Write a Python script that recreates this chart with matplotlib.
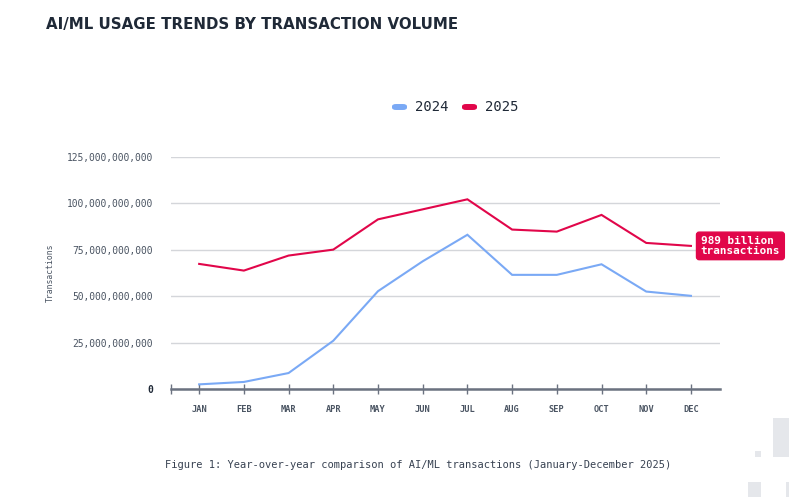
import matplotlib
matplotlib.use("Agg")
from matplotlib import pyplot as plt
from matplotlib.patches import Rectangle, FancyBboxPatch
from matplotlib.ticker import FuncFormatter, FixedLocator

months = ["JAN", "FEB", "MAR", "APR", "MAY", "JUN", "JUL", "AUG", "SEP", "OCT", "NOV", "DEC"]
# transactions, in billions
tx_2024 = [2.5, 3.8, 8.6, 26.0, 52.7, 68.8, 83.1, 61.5, 61.5, 67.2, 52.5, 50.2]
tx_2025 = [67.4, 63.8, 71.9, 75.1, 91.4, 96.8, 102.2, 85.9, 84.8, 93.8, 78.7, 77.1]
y_ticks = [0, 25e9, 50e9, 75e9, 100e9, 125e9]
callout = "989 billion\ntransactions"

BLUE = "#7aa9f5"
RED = "#e1064a"
MONO = "DejaVu Sans Mono"

W, H = 797, 497
fig = plt.figure(figsize=(W / 100, H / 100), dpi=100)

def fx(px):
    return px / W

def fy(py):
    return 1 - py / H

ax = fig.add_axes([fx(171), fy(389), fx(720) - fx(171), fy(157) - fy(389)])

x = list(range(len(months)))
ax.plot(x, [v * 1e9 for v in tx_2024], color=BLUE, lw=1.5, label="2024", solid_joinstyle="miter")
ax.plot(x, [v * 1e9 for v in tx_2025], color=RED, lw=1.5, label="2025", solid_joinstyle="miter")

ax.set_xlim(-0.63, 11.65)
ax.set_ylim(0, 125e9)

# grid + axes styling
for s in ["top", "right", "left"]:
    ax.spines[s].set_visible(False)
ax.spines["bottom"].set_color("#6b7280")
ax.spines["bottom"].set_linewidth(1.8)
ax.yaxis.set_major_locator(FixedLocator(y_ticks))
ax.yaxis.set_major_formatter(FuncFormatter(lambda v, p: f"{int(v):,}"))
ax.grid(axis="y", color="#d4d6da", lw=1)
ax.set_axisbelow(True)
ax.tick_params(axis="y", length=0, pad=13, labelsize=6.9, labelcolor="#4b5563")
for lbl in ax.get_yticklabels():
    lbl.set_fontfamily(MONO)
ax.get_yticklabels()[0].set_fontweight("bold")
ax.get_yticklabels()[0].set_color("#1f2937")

ax.set_xticks(x)
ax.set_xticklabels(months, fontfamily=MONO, fontsize=6.2, color="#4b5563", fontweight="bold")
ax.set_xticks([-0.63], minor=True)
ax.tick_params(axis="x", which="both", direction="inout", length=7, width=1,
               color="#6b7280", pad=8)

ax.set_ylabel("Transactions", fontfamily=MONO, fontsize=5.9, color="#4b5563")
ax.yaxis.set_label_coords(-0.212, 0.5)

# callout on last 2025 point
ax.annotate(callout, xy=(x[-1], tx_2025[-1] * 1e9), xytext=(7, 0),
            textcoords="offset points", ha="left", va="center",
            fontfamily=MONO, fontsize=7.9, fontweight="bold", color="white",
            linespacing=0.9, annotation_clip=False,
            bbox=dict(boxstyle="round,pad=0.38,rounding_size=0.25", fc=RED, ec=RED))

# title
fig.text(fx(46), fy(25), "AI/ML USAGE TRENDS BY TRANSACTION VOLUME", fontsize=10.8,
         fontweight="bold", color="#1f2937", ha="left", va="center")

# legend (pills)
leg_y = fy(107)
for i, (lab, col) in enumerate([("2024", BLUE), ("2025", RED)]):
    x0 = 392 + i * 70
    fig.add_artist(FancyBboxPatch((fx(x0), leg_y - 0.006), fx(15), 0.012,
                                  boxstyle="round,pad=0,rounding_size=0.005",
                                  transform=fig.transFigure, fc=col, ec="none"))
    fig.text(fx(x0 + 23), leg_y, lab, fontfamily=MONO, fontsize=10, color="#1f2937",
             ha="left", va="center")

# caption
fig.text(fx(165), fy(465), "Figure 1: Year-over-year comparison of AI/ML transactions (January-December 2025)",
         fontfamily=MONO, fontsize=7.5, color="#374151", ha="left", va="center")

# decorative gray blocks bottom right
for (px0, py0, pw, ph) in [(773, 418, 16, 39), (755, 451, 6, 6), (748, 482, 13, 15), (786, 482, 3, 15)]:
    fig.add_artist(Rectangle((fx(px0), fy(py0 + ph)), fx(pw), ph / H,
                             transform=fig.transFigure, fc="#e5e7eb", ec="none"))

fig.savefig("out.png", dpi=100)
